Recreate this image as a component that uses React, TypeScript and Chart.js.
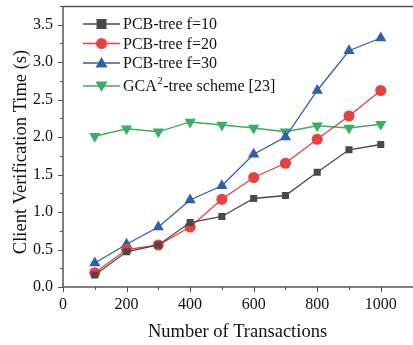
import React, { useEffect, useRef } from "react";
import { Chart, registerables } from "chart.js";
Chart.register(...registerables);

const xValues = [100, 200, 300, 400, 500, 600, 700, 800, 900, 1000];
const pcb10 = [0.16, 0.47, 0.56, 0.86, 0.94, 1.18, 1.22, 1.53, 1.83, 1.90];
const pcb20 = [0.19, 0.50, 0.56, 0.80, 1.17, 1.46, 1.65, 1.97, 2.28, 2.62];
const pcb30 = [0.32, 0.57, 0.80, 1.16, 1.35, 1.77, 2.00, 2.62, 3.15, 3.32];
const gca = [2.01, 2.11, 2.07, 2.20, 2.16, 2.12, 2.07, 2.15, 2.12, 2.17];
const seriesNames = ["PCB-tree f=10", "PCB-tree f=20", "PCB-tree f=30", "GCA\u00b2-tree scheme [23]"];
const xTickLabels = [0, 200, 400, 600, 800, 1000];
const yTickLabels = [0.0, 0.5, 1.0, 1.5, 2.0, 2.5, 3.0, 3.5];
const xTitle = "Number of Transactions";
const yTitle = "Client Verification Time (s)";

const FONT = "'Liberation Serif', 'Times New Roman', serif";
const AXIS = "#555555";

const toPts = (arr: number[]) => arr.map((y, i) => ({ x: xValues[i], y }));

const axesPlugin = {
  id: "axesPlugin",
  afterDraw(chart: any) {
    const ctx = chart.ctx;
    const { left, top, bottom } = chart.chartArea;
    const W = chart.width;
    const xs = chart.scales.x;
    const ys = chart.scales.y;
    ctx.save();
    ctx.strokeStyle = AXIS;
    ctx.lineWidth = 1.5;
    ctx.beginPath();
    ctx.moveTo(left, top);
    ctx.lineTo(W, top);
    ctx.moveTo(left, top);
    ctx.lineTo(left, bottom);
    ctx.lineTo(W, bottom);
    ctx.stroke();
    ctx.lineWidth = 1;
    ctx.beginPath();
    for (let v = 0; v <= 1000; v += 100) {
      const px = Math.round(xs.getPixelForValue(v)) + 0.5;
      const len = v % 200 === 0 ? 5 : 3;
      ctx.moveTo(px, bottom);
      ctx.lineTo(px, bottom + len);
    }
    for (let v = 0; v <= 3.75; v += 0.25) {
      const py = Math.round(ys.getPixelForValue(v)) + 0.5;
      const len = Math.abs(v * 2 - Math.round(v * 2)) < 1e-6 ? 5 : 3;
      ctx.moveTo(left, py);
      ctx.lineTo(left - len, py);
    }
    ctx.stroke();

    // axis titles
    ctx.fillStyle = "#111";
    ctx.font = `18.5px ${FONT}`;
    ctx.textAlign = "center";
    ctx.textBaseline = "middle";
    ctx.fillText(xTitle, 237.5, 332);
    ctx.save();
    ctx.translate(21, 152);
    ctx.rotate(-Math.PI / 2);
    ctx.fillText(yTitle, 0, 0);
    ctx.restore();

    // legend
    const rows = [24, 43.5, 63, 86];
    chart.data.datasets.forEach((ds: any, i: number) => {
      const y = rows[i];
      ctx.strokeStyle = ds.borderColor;
      ctx.lineWidth = 1.3;
      ctx.beginPath();
      ctx.moveTo(83, y);
      ctx.lineTo(120, y);
      ctx.stroke();
      ctx.fillStyle = ds.pointBackgroundColor;
      const mx = 101.5;
      ctx.beginPath();
      if (ds.pointStyle === "rect") {
        ctx.rect(mx - 5, y - 5, 10, 10);
      } else if (ds.pointStyle === "circle") {
        ctx.arc(mx, y, 5.5, 0, Math.PI * 2);
      } else if (ds.pointRotation === 180) {
        ctx.moveTo(mx - 6, y - 4.5);
        ctx.lineTo(mx + 6, y - 4.5);
        ctx.lineTo(mx, y + 6);
        ctx.closePath();
      } else {
        ctx.moveTo(mx - 6, y + 4.5);
        ctx.lineTo(mx + 6, y + 4.5);
        ctx.lineTo(mx, y - 6);
        ctx.closePath();
      }
      ctx.fill();
      ctx.fillStyle = "#111";
      ctx.textBaseline = "middle";
      ctx.textAlign = "left";
      ctx.font = `16px ${FONT}`;
      const name: string = seriesNames[i];
      if (name.includes("\u00b2")) {
        const [a, b] = name.split("\u00b2");
        ctx.fillText(a, 123, y + 1);
        const wa = ctx.measureText(a).width;
        ctx.font = `11px ${FONT}`;
        ctx.fillText("2", 123 + wa + 0.5, y - 5);
        const w2 = ctx.measureText("2").width;
        ctx.font = `16px ${FONT}`;
        ctx.fillText(b, 123 + wa + w2 + 1, y + 1);
      } else {
        ctx.fillText(name, 123, y + 1);
      }
    });
    ctx.restore();
  },
};

export default function App() {
  const ref = useRef<HTMLCanvasElement>(null);
  useEffect(() => {
    document.body.style.margin = "0";
    const mk = (label: string, data: number[], color: string, style: string, rot = 0, r = 5) => ({
      label,
      data: toPts(data),
      borderColor: color,
      backgroundColor: color,
      pointBackgroundColor: color,
      pointBorderColor: color,
      pointStyle: style,
      pointRotation: rot,
      pointRadius: r,
      borderWidth: 1.3,
      pointBorderWidth: 0,
      tension: 0,
    });
    const chart = new Chart(ref.current!, {
      type: "line",
      data: {
        datasets: [
          mk(seriesNames[0], pcb10, "#4a4a4a", "rect", 0, 5),
          mk(seriesNames[1], pcb20, "#e8403f", "circle", 0, 5.5),
          mk(seriesNames[2], pcb30, "#2f5fb3", "triangle", 0, 6.5),
          mk(seriesNames[3], gca, "#3aae62", "triangle", 180, 6.5),
        ] as any,
      },
      plugins: [axesPlugin],
      options: {
        animation: false,
        responsive: false,
        layout: { padding: { top: 3, right: 0, left: 0, bottom: 0 } },
        plugins: { legend: { display: false }, tooltip: { enabled: false } },
        scales: {
          x: {
            type: "linear",
            min: 0,
            max: 1081,
            grid: { display: false, drawTicks: false },
            border: { display: false },
            afterBuildTicks: (s: any) => {
              s.ticks = xTickLabels.map((v) => ({ value: v }));
            },
            afterFit: (s: any) => {
              s.height = 58;
              s.paddingLeft = 0;
              s.paddingRight = 0;
            },
            ticks: {
              color: "#111",
              font: { family: FONT, size: 16 },
              padding: 8,
              maxRotation: 0,
              autoSkip: false,
              callback: (v: any) => String(v),
            },
          },
          y: {
            type: "linear",
            min: 0,
            max: 3.74,
            grid: { display: false, drawTicks: false },
            border: { display: false },
            afterBuildTicks: (s: any) => {
              s.ticks = yTickLabels.map((v) => ({ value: v }));
            },
            afterFit: (s: any) => {
              s.width = 63;
              s.paddingTop = 0;
              s.paddingBottom = 0;
            },
            ticks: {
              color: "#111",
              font: { family: FONT, size: 16 },
              padding: 10,
              autoSkip: false,
              callback: (v: any) => Number(v).toFixed(1),
            },
          },
        },
      },
    });
    return () => chart.destroy();
  }, []);
  return (
    <div style={{ position: "absolute", left: 0, top: 0, width: 413, height: 345, background: "#fff" }}>
      <canvas ref={ref} width={413} height={345} style={{ width: 413, height: 345 }} />
    </div>
  );
}
